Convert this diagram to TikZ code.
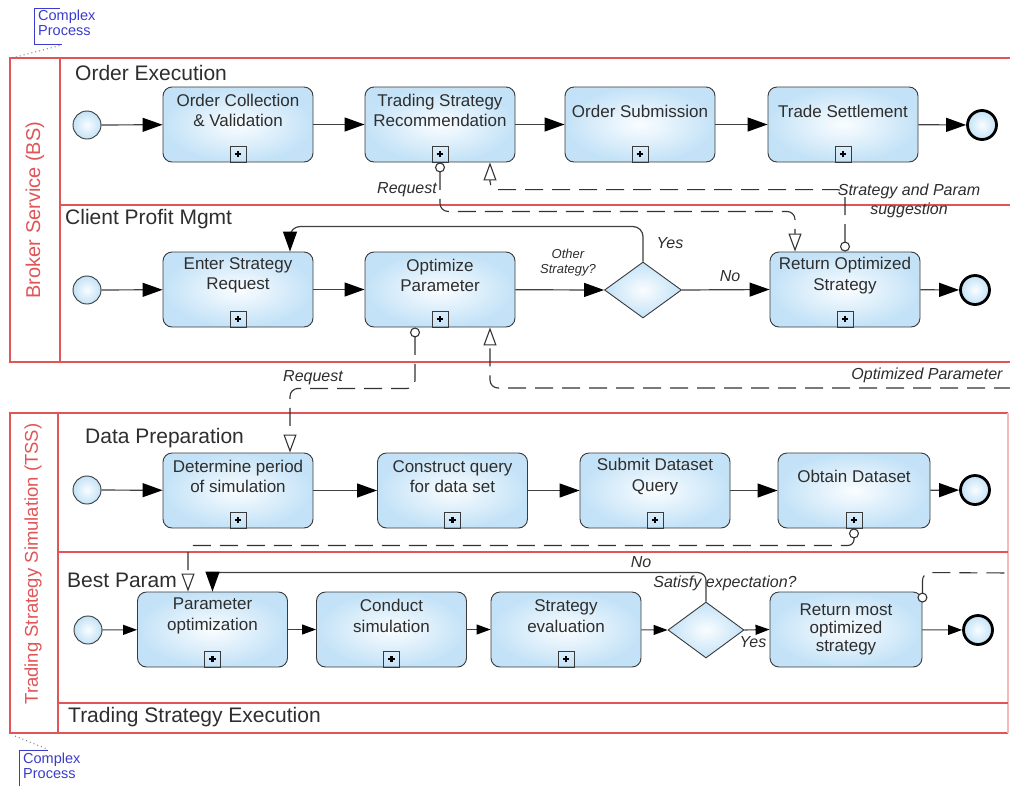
\documentclass[tikz,border=0pt]{standalone}
\usepackage{fontspec}
\setmainfont{Liberation Sans}
\usetikzlibrary{arrows.meta,shapes.geometric,calc}
\definecolor{poolred}{HTML}{E05558}
\definecolor{taskfill}{HTML}{C3E2F7}
\definecolor{taskin}{HTML}{FAFDFF}
\definecolor{edgegray}{HTML}{3A3A3A}
\definecolor{txt}{HTML}{2E2E2E}
\definecolor{annblue}{HTML}{3C3CCC}
\tikzset{
  pool/.style={draw=poolred, line width=1.6pt},
  poolfaint/.style={draw=poolred!40, line width=1.2pt},
  taskbox/.style={rectangle, draw=edgegray, line width=0.9pt, rounded corners=9pt,
    minimum width=150pt, minimum height=75pt, inner sep=0pt,
    shading=radial, inner color=taskin, outer color=taskfill},
  tasktext/.style={font=\fontsize{17}{20.5}\selectfont, align=center, text=txt, inner sep=0pt},
  marker/.style={rectangle, draw=edgegray, line width=0.9pt, minimum size=16pt, inner sep=0pt, anchor=south,
    path picture={
      \draw[line width=2.2pt, black] ([xshift=-3.2pt]path picture bounding box.center) -- ([xshift=3.2pt]path picture bounding box.center);
      \draw[line width=2.2pt, black] ([yshift=-3.2pt]path picture bounding box.center) -- ([yshift=3.2pt]path picture bounding box.center);}},
  startev/.style={circle, draw=edgegray, line width=0.9pt, minimum size=28pt, inner sep=0pt,
    shading=radial, inner color=taskin, outer color=taskfill},
  endev/.style={circle, draw=black, line width=2.8pt, minimum size=29pt, inner sep=0pt,
    shading=radial, inner color=taskin, outer color=taskfill},
  gateway/.style={diamond, draw=edgegray, line width=0.9pt, minimum width=77pt, minimum height=56pt, inner sep=0pt,
    shading=radial, inner color=taskin, outer color=taskfill},
  seqL/.style={draw=black!75, line width=1.2pt, -{Triangle[length=20pt,width=14pt,fill=black,color=black]}},
  seqS/.style={draw=black!75, line width=1.1pt, -{Triangle[length=14pt,width=10pt,fill=black,color=black]}},
  msg/.style={draw=black!80, line width=1.1pt, dash pattern=on 18pt off 9pt, rounded corners=8pt},
  msgstart/.style={{Circle[open,length=10pt,width=10pt,fill=white]}-},
  msgend/.style={-{Triangle[open,length=18pt,width=13pt,fill=white]}},
  msgboth/.style={{Circle[open,length=10pt,width=10pt,fill=white]}-{Triangle[open,length=18pt,width=13pt,fill=white]}},
  lanetitle/.style={font=\fontsize{21}{24}\selectfont, text=txt, anchor=west, inner sep=0pt},
  pooltitle/.style={text=poolred, rotate=90, inner sep=0pt},
  flowlabel/.style={font=\fontsize{16}{19}\selectfont\itshape, text=txt, align=center, inner sep=0pt},
  anntext/.style={font=\fontsize{14.5}{15}\selectfont, text=annblue, align=left, inner sep=0pt},
}
\begin{document}
\begin{tikzpicture}[x=1pt,y=-1pt]
\useasboundingbox (0,0) rectangle (1010,785);
\fill[white] (0,0) rectangle (1010,785);

% ---------- pools and lanes ----------
\draw[pool] (1010,58) -- (10,58) -- (10,362) -- (1010,362);
\draw[pool] (60,58) -- (60,362);
\draw[pool] (60,205) -- (1010,205);
\draw[pool] (1008,413) -- (10,413) -- (10,733) -- (1008,733);
\draw[poolfaint] (1008,413) -- (1008,733);
\draw[pool] (58,413) -- (58,733);
\draw[pool] (58,552) -- (1008,552);
\draw[pool] (58,703) -- (1008,703);

\node[pooltitle, font=\fontsize{20}{24}\selectfont] (bs) at (35,210) {Broker Service (BS)};
\node[pooltitle, font=\fontsize{18.5}{22}\selectfont] (tss) at (33,564) {Trading Strategy Simulation (TSS)};

\node[lanetitle] (l1) at (75,73) {Order Execution};
\node[lanetitle] (l2) at (65,219) {Client Profit Mgmt};
\node[lanetitle] (l3) at (85,438) {Data Preparation};
\node[lanetitle] (l4) at (67,580) {Best Param};
\node[lanetitle] (l5) at (68,717) {Trading Strategy Execution};

% ---------- complex process annotations ----------
\node[anntext, anchor=north west] (cp1) at (38,10) {Complex\\Process};
\draw[annblue, line width=1pt] (60,8) -- (34,8) -- (34,44) -- (62,44);
\coordinate (cp1a) at (62,45);
\coordinate (pool1c) at (12,58);
\draw[gray, line width=1pt, dash pattern=on 1pt off 3pt] (pool1c) -- (cp1a);

\node[anntext, anchor=north west] (cp2) at (23,753) {Complex\\Process};
\draw[annblue, line width=1pt] (48,750) -- (19,750) -- (19,787);
\coordinate (cp2a) at (47,749);
\coordinate (pool2c) at (15,736);
\draw[gray, line width=1pt, dash pattern=on 1pt off 3pt] (pool2c) -- (cp2a);

% ---------- Order Execution lane ----------
\node[startev] (s1) at (87,125) {};
\node[taskbox] (oc) at (238,124.5) {};
\node[tasktext] (oct) at (238,110.5) {Order Collection\\\& Validation};
\node[marker] (ocm) at (oc.south) {};
\node[taskbox] (tsr) at (440,124.5) {};
\node[tasktext] (tsrt) at (440,110.5) {Trading Strategy\\Recommendation};
\node[marker] (tsrm) at (tsr.south) {};
\node[taskbox] (os) at (640,124.5) {};
\node[tasktext] (ost) at (640,111) {Order Submission};
\node[marker] (osm) at (os.south) {};
\node[taskbox] (ts) at (843,124.5) {};
\node[tasktext] (tst) at (843,111) {Trade Settlement};
\node[marker] (tsm) at (ts.south) {};
\node[endev] (e1) at (982,125) {};

\draw[seqL] (s1) -- (oc);
\draw[seqL] (oc) -- (tsr);
\draw[seqL] (tsr) -- (os);
\draw[seqL] (os) -- (ts);
\draw[seqL] (ts) -- (e1);

% ---------- Client Profit Mgmt lane ----------
\node[startev] (s2) at (87,290) {};
\node[taskbox] (esr) at (238,289.5) {};
\node[tasktext] (esrt) at (238,275.5) {Enter Strategy\\Request};
\node[marker] (esrm) at (esr.south) {};
\node[taskbox] (op) at (440,289.5) {};
\node[tasktext] (opt) at (440,275.5) {Optimize\\Parameter};
\node[marker] (opm) at (op.south) {};
\node[gateway] (gw1) at (643,290) {};
\node[taskbox] (ros) at (845,289.5) {};
\node[tasktext] (rost) at (845,275.5) {Return Optimized\\Strategy};
\node[marker] (rosm) at (ros.south) {};
\node[endev] (e2) at (975,290) {};

\draw[seqL] (s2) -- (esr);
\draw[seqL] (esr) -- (op);
\draw[seqL] (op) -- (gw1.west);
\draw[seqL] (gw1.east) -- (ros.west);
\draw[seqL] (ros) -- (e2);
\draw[seqL, rounded corners=10pt] (gw1.north) |- ($(esr.north)+(52,-25)$) -- ($(esr.north)+(52,0)$);

\node[flowlabel, font=\fontsize{13}{15}\selectfont\itshape] (lOther) at (568,263) {Other\\Strategy?};
\node[flowlabel] (lYes1) at (670,243) {Yes};
\node[flowlabel] (lNo1) at (730,276) {No};

% ---------- Data Preparation lane ----------
\node[startev] (s3) at (87,490) {};
\node[taskbox] (dp) at (238,490.5) {};
\node[tasktext] (dpt) at (238,476.5) {Determine period\\of simulation};
\node[marker] (dpm) at (dp.south) {};
\node[taskbox] (cq) at (452.5,490.5) {};
\node[tasktext] (cqt) at (452.5,476.5) {Construct query\\for data set};
\node[marker] (cqm) at (cq.south) {};
\node[taskbox] (sdq) at (655,490.5) {};
\node[tasktext] (sdqt) at (655,476.5) {Submit Dataset\\Query};
\node[marker] (sdqm) at (sdq.south) {};
\node[taskbox, minimum width=152pt] (od) at (854,490.5) {};
\node[tasktext] (odt) at (854,476) {Obtain Dataset};
\node[marker] (odm) at (od.south) {};
\node[endev] (e3) at (975,490) {};

\draw[seqL] (s3) -- (dp);
\draw[seqL] (dp) -- (cq);
\draw[seqL] (cq) -- (sdq);
\draw[seqL] (sdq) -- (od);
\draw[seqL] (od) -- (e3);

% ---------- Best Param lane ----------
\node[startev] (s4) at (88,630) {};
\node[taskbox] (po) at (212.5,629.5) {};
\node[tasktext] (pot) at (212.5,616) {Parameter\\optimization};
\node[marker] (pom) at (po.south) {};
\node[taskbox] (cs) at (391.5,629.5) {};
\node[tasktext] (cst) at (391.5,616) {Conduct\\simulation};
\node[marker] (csm) at (cs.south) {};
\node[taskbox] (se) at (566,629.5) {};
\node[tasktext] (set) at (566,616) {Strategy\\evaluation};
\node[marker] (sem) at (se.south) {};
\node[gateway, minimum width=76pt] (gw2) at (706,630) {};
\node[taskbox, minimum width=152pt] (rmo) at (846,629.5) {};
\node[tasktext, font=\fontsize{17}{18}\selectfont] (rmot) at (846,629) {Return most\\optimized\\strategy};
\node[endev] (e4) at (978,630) {};

\draw[seqS] (s4) -- (po);
\draw[seqS] (po) -- (cs);
\draw[seqS] (cs) -- (se);
\draw[seqS] (se) -- (gw2.west);
\draw[seqS] (gw2.east) -- (rmo.west);
\draw[seqS] (rmo) -- (e4);
\draw[seqL] (gw2.north) [rounded corners=8pt] |- ($(po.north)+(0,-19)$) [sharp corners] -- (po.north);

\node[flowlabel] (lNo2) at (641,562) {No};
\node[flowlabel] (lSat) at (725,583) {Satisfy expectation?};
\node[flowlabel] (lYes2) at (753,642) {Yes};

% ---------- message flows ----------
\draw[msg, msgboth] (tsr.south) -- ++(0,49) -| ($(ros.north)+(-50,0)$);
\node[flowlabel, anchor=east] (lReq1) at (437,190) {Request};

\draw[msg, msgboth] (ros.north) -- ++(0,-62) -| ($(tsr.south)+(50,0)$);
\node[flowlabel] (lSP) at (909,200.5) {Strategy and Param\\suggestion};

\draw[msg, msgboth] ($(op.south)+(-25,0)$) -- ++(0,61) -| ($(dp.north)+(52,0)$);
\node[flowlabel] (lReq2) at (313,378) {Request};

\coordinate (edgeOP) at (1012,388);
\draw[msg, msgend] (edgeOP) -| ($(op.south)+(50,0)$);
\node[flowlabel] (lOP) at (927,375) {Optimized Parameter};

\draw[msg, msgboth, rounded corners=6pt] (od.south) -- ++(0,17) -| ($(po.north)+(-24.5,0)$);

\coordinate (edgeRM) at (1012,573);
\draw[msg, msgstart] ($(rmo.north east)+(0,11)$) -- ++(0,-30) -- (edgeRM);

\end{tikzpicture}
\end{document}
